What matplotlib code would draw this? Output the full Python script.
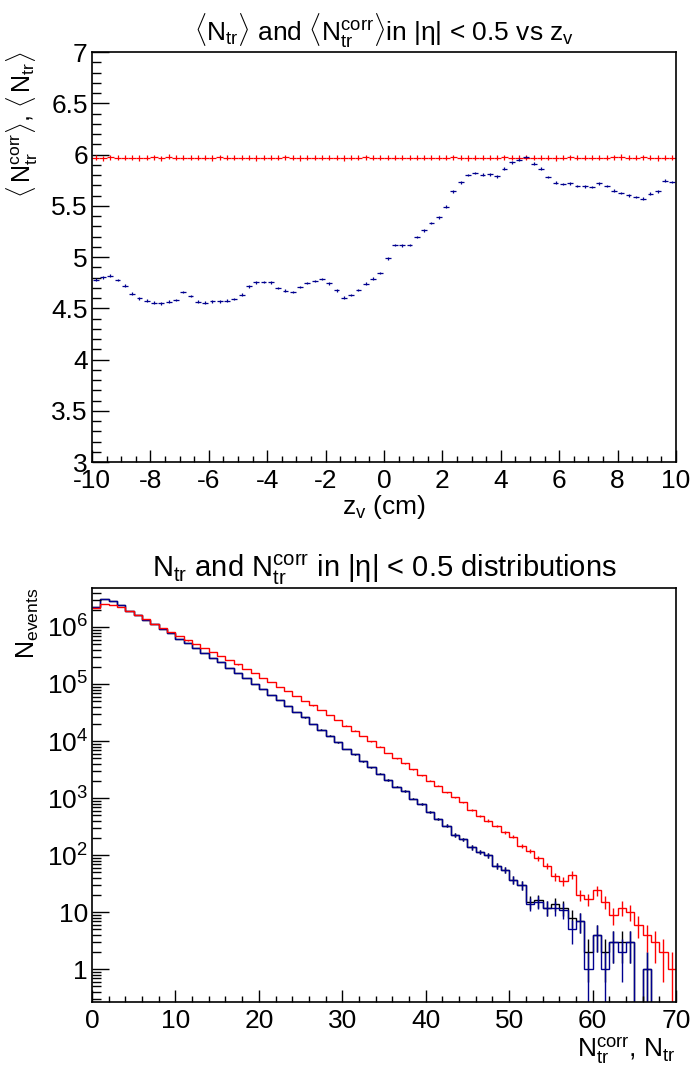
import numpy as np
import matplotlib
matplotlib.use("Agg")
import matplotlib.pyplot as plt
from matplotlib.ticker import MultipleLocator, FixedLocator, FixedFormatter, NullFormatter

plt.rcParams['font.family'] = ['Liberation Sans', 'DejaVu Sans']
plt.rcParams['mathtext.fontset'] = 'custom'
plt.rcParams['mathtext.rm'] = 'Liberation Sans'
plt.rcParams['mathtext.it'] = 'Liberation Sans:italic'
plt.rcParams['axes.unicode_minus'] = False

# ---- top panel: <N_tr> and <N_tr^corr> vs z_v (80 bins, -10..10 cm)
zv_edges = np.linspace(-10, 10, 81)
mean_ntr = [4.780, 4.802, 4.818, 4.776, 4.721, 4.643, 4.597, 4.575, 4.555, 4.548,
            4.565, 4.581, 4.656, 4.620, 4.565, 4.555, 4.568, 4.568, 4.575, 4.591,
            4.633, 4.714, 4.753, 4.756, 4.753, 4.698, 4.672, 4.659, 4.707, 4.746,
            4.766, 4.785, 4.743, 4.675, 4.604, 4.630, 4.678, 4.740, 4.789, 4.844,
            4.987, 5.117, 5.114, 5.117, 5.195, 5.260, 5.332, 5.387, 5.492, 5.641,
            5.729, 5.800, 5.820, 5.804, 5.807, 5.787, 5.862, 5.924, 5.950, 5.973,
            5.911, 5.862, 5.778, 5.726, 5.712, 5.719, 5.693, 5.690, 5.683, 5.719,
            5.693, 5.648, 5.622, 5.602, 5.585, 5.570, 5.619, 5.641, 5.745, 5.732]
mean_corr = [5.970, 5.962, 5.972, 5.970, 5.968, 5.970, 5.966, 5.970, 5.974, 5.962,
             5.978, 5.970, 5.970, 5.968, 5.970, 5.970, 5.966, 5.972, 5.970, 5.968,
             5.970, 5.970, 5.966, 5.970, 5.968, 5.970, 5.972, 5.970, 5.966, 5.970,
             5.970, 5.968, 5.970, 5.970, 5.966, 5.970, 5.970, 5.972, 5.970, 5.968,
             5.970, 5.968, 5.970, 5.970, 5.968, 5.970, 5.970, 5.970, 5.968, 5.972,
             5.970, 5.966, 5.970, 5.968, 5.970, 5.970, 5.972, 5.970, 5.968, 5.970,
             5.970, 5.970, 5.968, 5.966, 5.970, 5.972, 5.970, 5.970, 5.968, 5.970,
             5.970, 5.972, 5.976, 5.970, 5.970, 5.974, 5.968, 5.966, 5.970, 5.970]

# ---- bottom panel: multiplicity distributions (70 bins, 0..70)
n_edges = np.arange(0, 71)
n_corr = [2.12e6, 2.54e6, 2.47e6, 2.21e6, 1.94e6, 1.60e6, 1.36e6, 1.15e6, 9.7e5, 8.2e5,
          6.95e5, 5.8e5, 5.0e5, 4.3e5, 3.7e5, 3.1e5, 2.64e5, 2.2e5, 1.86e5, 1.54e5,
          1.29e5, 1.08e5, 9.0e4, 7.5e4, 6.2e4, 5.1e4, 4.2e4, 3.45e4, 2.86e4, 2.33e4,
          1.86e4, 1.52e4, 1.22e4, 9.9e3, 7.96e3, 6.2e3, 4.97e3, 4.06e3, 3.18e3, 2.53e3,
          2010, 1640, 1260, 1030, 839, 616, 483, 400, 323, 250,
          210, 146, 119, 87, 64, 42, 35, 45, 20, 17,
          24, 15, 9, 12, 10, 6, 4, 3, 2, 1]
n_tr = [2.28e6, 3.05e6, 2.90e6, 2.43e6, 1.94e6, 1.60e6, 1.33e6, 1.11e6, 9.2e5, 7.7e5,
        6.2e5, 5.2e5, 4.3e5, 3.5e5, 2.9e5, 2.4e5, 1.94e5, 1.56e5, 1.26e5, 1.01e5,
        8.1e4, 6.5e4, 5.2e4, 4.1e4, 3.2e4, 2.6e4, 2.0e4, 1.58e4, 1.24e4, 9.5e3,
        7.3e3, 5.8e3, 4.4e3, 3.45e3, 2.67e3, 2.07e3, 1.58e3, 1.33e3, 973, 774,
        560, 428, 327, 224, 188, 136, 114, 100, 65, 55,
        37, 30, 14, 15, 12, 12, 11, 5, 7, 1,
        4, 1, 3, 2, 3, 0, 1, 0, 0, 0]
n_raw_tail = [37, 30, 15, 16, 12, 14, 12, 8, 7, 2,
              4, 2, 3, 3, 3, 0, 1, 0, 0, 0]
n_raw = n_tr[:50] + n_raw_tail

blue = '#00008f'
red = '#ff0000'

fig = plt.figure(figsize=(6.92, 10.68), dpi=100)

# ---------- top panel
ax1 = fig.add_axes([92/692, 1 - 462/1068, 584/692, 410/1068])
zc = 0.5 * (zv_edges[1:] + zv_edges[:-1])
ax1.errorbar(zc, mean_corr, xerr=0.125, yerr=0.025, fmt='none', ecolor=red, elinewidth=0.9)
ax1.errorbar(zc, mean_ntr, xerr=0.1, yerr=0.012, fmt='none', ecolor=blue, elinewidth=0.9)
ax1.set_xlim(-10, 10)
ax1.set_ylim(3, 7)
ax1.xaxis.set_major_locator(MultipleLocator(2))
ax1.xaxis.set_minor_locator(MultipleLocator(0.5))
ax1.yaxis.set_major_locator(MultipleLocator(0.5))
ax1.yaxis.set_minor_locator(MultipleLocator(0.1))
ax1.yaxis.set_major_formatter(matplotlib.ticker.FuncFormatter(lambda v, p: f'{v:g}'))
ax1.set_title(r'$\langle\mathrm{N}_{\mathrm{tr}}\rangle$ and '
              r'$\langle\mathrm{N}_{\mathrm{tr}}^{\mathrm{corr}}\rangle$in |η| < 0.5 vs $\mathrm{z}_{\mathrm{v}}$',
              fontsize=19, pad=8)
ax1.set_xlabel(r'$\mathrm{z}_{\mathrm{v}}$ (cm)', fontsize=19, labelpad=0)
ax1.set_ylabel(r'$\langle\,\mathrm{N}^{\mathrm{corr}}_{\mathrm{tr}}\rangle$, $\langle\,\mathrm{N}_{\mathrm{tr}}\rangle$',
               fontsize=18, loc='top', labelpad=8)

# ---------- bottom panel
ax2 = fig.add_axes([92/692, 1 - 1002/1068, 584/692, 414/1068])
floor = 1e-3
nc = 0.5 * (n_edges[1:] + n_edges[:-1])
for vals, col in [(n_raw, 'black'), (n_tr, blue), (n_corr, red)]:
    v = np.asarray(vals, dtype=float)
    ax2.stairs(np.where(v > 0, v, floor), n_edges, color=col, lw=1.0, baseline=None)
    err = np.sqrt(v)
    lo = np.where(v - err > 0, err, v - floor)
    m = v > 0
    ax2.errorbar(nc[m], v[m], yerr=[lo[m], err[m]], fmt='none', ecolor=col, elinewidth=1.0)
ax2.set_yscale('log')
ax2.set_xlim(0, 70)
ax2.set_ylim(0.264, 4.83e6)
ax2.xaxis.set_major_locator(MultipleLocator(10))
ax2.xaxis.set_minor_locator(MultipleLocator(2))
decades = [1, 10, 1e2, 1e3, 1e4, 1e5, 1e6]
ax2.yaxis.set_major_locator(FixedLocator(decades))
ax2.yaxis.set_major_formatter(FixedFormatter(['1', '10', r'$10^{2}$', r'$10^{3}$',
                                              r'$10^{4}$', r'$10^{5}$', r'$10^{6}$']))
minors = [k * d for d in [0.1] + decades for k in range(2, 10)]
ax2.yaxis.set_minor_locator(FixedLocator(minors))
ax2.yaxis.set_minor_formatter(NullFormatter())
ax2.set_title(r'$\mathrm{N}_{\mathrm{tr}}$ and $\mathrm{N}_{\mathrm{tr}}^{\mathrm{corr}}$ in |η| < 0.5 distributions',
              fontsize=21, pad=8)
ax2.set_xlabel(r'$\mathrm{N}_{\mathrm{tr}}^{\mathrm{corr}}$, $\mathrm{N}_{\mathrm{tr}}$', fontsize=19,
               loc='right', labelpad=2)
ax2.set_ylabel(r'$\mathrm{N}_{\mathrm{events}}$', fontsize=18, loc='top', labelpad=4)

for ax in (ax1, ax2):
    for s in ax.spines.values():
        s.set_linewidth(1.2)
    ax.tick_params(axis='both', which='both', direction='in', top=False, right=False,
                   labelsize=19, width=1.0)
    ax.tick_params(axis='x', which='major', length=9, pad=5)
    ax.tick_params(axis='x', which='minor', length=4.5)
    ax.tick_params(axis='y', which='major', length=12.5, pad=3)
    ax.tick_params(axis='y', which='minor', length=6.3)

fig.savefig('out.png', dpi=100)
